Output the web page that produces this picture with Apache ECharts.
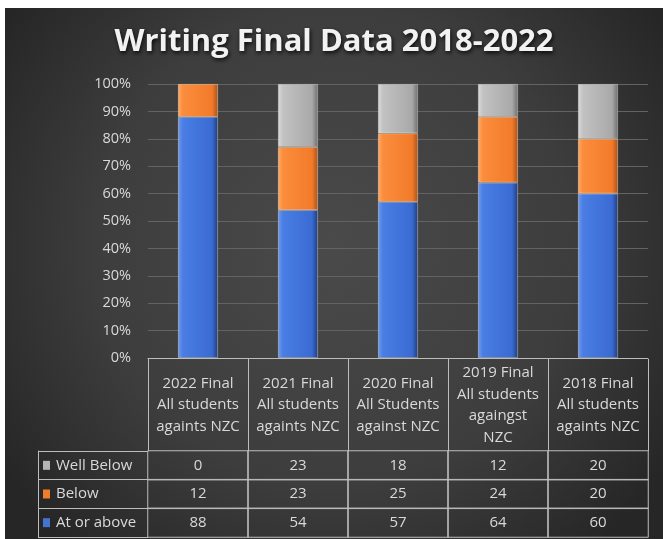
<!DOCTYPE html>
<html>
<head>
<meta charset="utf-8">
<script src="https://cdn.jsdelivr.net/npm/echarts@6/dist/echarts.min.js"></script>
<style>
html,body{margin:0;padding:0;background:#ffffff;width:663px;height:539px;overflow:hidden;}
#c{position:absolute;left:5px;top:8px;width:658px;height:531px;}
</style>
</head>
<body>
<div id="c"></div>
<script>
// ---- data ----
const categories = [
  '2022 Final\nAll students\nagaints NZC',
  '2021 Final\nAll students\nagaints NZC',
  '2020 Final\nAll Students\nagainst NZC',
  '2019 Final\nAll students\nagaingst\nNZC',
  '2018 Final\nAll students\nagaints NZC'
];
const seriesNames = ['Well Below', 'Below', 'At or above'];
const wellBelow = [0, 23, 18, 12, 20];
const below = [12, 23, 25, 24, 20];
const atOrAbove = [88, 54, 57, 64, 60];
const yTicks = [0, 10, 20, 30, 40, 50, 60, 70, 80, 90, 100];

const FONT = '"Open Sans"';
const TXT = '#d9d9d9';
const BORDER = '#bdbdbd';

function grad(c0, c1, c2, c3) {
  return new echarts.graphic.LinearGradient(0, 0, 1, 0, [
    {offset: 0, color: c0}, {offset: 0.12, color: c1},
    {offset: 0.85, color: c2}, {offset: 1, color: c3}
  ]);
}
const colBlue = grad('#6c9cf2', '#4a7ee4', '#3a6bd2', '#1e3d7c');
const colOrange = grad('#ffab66', '#fb8d3c', '#f27b2a', '#a8521a');
const colGrey = grad('#dcdcdc', '#c2c2c2', '#a9a9a9', '#6e6e6e');
const iconColors = {'Well Below': '#b5b5b5', 'Below': '#f07d2c', 'At or above': '#4574d0'};

// empty segments are not drawn
const seg = arr => arr.map(v => (v === 0 ? '-' : v));

const rows = [wellBelow, below, atOrAbove];
const tableData = [];
rows.forEach((arr, r) => arr.forEach((v, c) => tableData.push([c, r, v])));

const chart = echarts.init(document.getElementById('c'), null, {renderer: 'canvas'});
chart.setOption({
  animation: false,
  backgroundColor: {
    type: 'radial', x: 0.5, y: 0.45, r: 0.75,
    colorStops: [{offset: 0, color: '#4a4a4a'}, {offset: 0.6, color: '#3d3d3d'}, {offset: 1, color: '#262626'}]
  },
  title: {
    text: 'Writing Final Data 2018-2022',
    left: 'center', top: 14,
    textStyle: {
      fontFamily: FONT, fontWeight: 'bold', fontSize: 31, color: '#f2f2f2',
      textShadowColor: 'rgba(0,0,0,0.85)', textShadowBlur: 4, textShadowOffsetX: 1, textShadowOffsetY: 2
    }
  },
  grid: [
    {left: 143, top: 76, width: 500, height: 274},
    {left: 143, top: 443, width: 500, height: 86}
  ],
  xAxis: [
    {
      gridIndex: 0, type: 'category', data: categories,
      axisLine: {show: true, lineStyle: {color: BORDER, width: 1}},
      axisTick: {show: false}, axisLabel: {show: false}
    },
    {
      gridIndex: 1, type: 'category', data: categories, position: 'top',
      axisLine: {show: false},
      axisTick: {show: true, length: 92, interval: 0, lineStyle: {color: BORDER}},
      axisLabel: {
        interval: 0, margin: 46, verticalAlign: 'middle', color: TXT,
        fontFamily: FONT, fontSize: 15, lineHeight: 21.5, align: 'center'
      }
    }
  ],
  yAxis: [
    {
      gridIndex: 0, type: 'value', min: 0, max: 100, interval: 10,
      axisLine: {show: false}, axisTick: {show: false},
      axisLabel: {formatter: '{value}%', color: TXT, fontFamily: FONT, fontSize: 14.5, margin: 17},
      splitLine: {lineStyle: {color: '#636363', width: 1}}
    },
    {
      gridIndex: 1, type: 'category', data: seriesNames, inverse: true,
      axisLine: {show: false},
      axisTick: {show: true, length: 110, interval: 0, lineStyle: {color: BORDER}},
      axisLabel: {
        align: 'left', margin: 105, color: TXT, fontFamily: FONT, fontSize: 15,
        formatter: function (v) {
          const key = v === 'Well Below' ? 'g' : (v === 'Below' ? 'o' : 'b');
          return '{' + key + '|}{t|' + v + '}';
        },
        rich: {
          g: {width: 7, height: 9, backgroundColor: iconColors['Well Below']},
          o: {width: 7, height: 9, backgroundColor: iconColors['Below']},
          b: {width: 7, height: 9, backgroundColor: iconColors['At or above']},
          t: {color: TXT, fontFamily: FONT, fontSize: 15, padding: [0, 0, 0, 6]}
        }
      }
    },
    {
      gridIndex: 1, type: 'category', data: seriesNames, inverse: true, position: 'left', offset: 110,
      axisLine: {show: true, lineStyle: {color: BORDER}},
      axisTick: {show: false}, axisLabel: {show: false}
    }
  ],
  series: [
    {
      name: 'At or above', type: 'bar', stack: 'all', xAxisIndex: 0, yAxisIndex: 0,
      barWidth: 40, data: seg(atOrAbove),
      itemStyle: {color: colBlue, borderColor: 'rgba(230,220,210,0.55)', borderWidth: 0.8}
    },
    {
      name: 'Below', type: 'bar', stack: 'all', xAxisIndex: 0, yAxisIndex: 0,
      barWidth: 40, data: seg(below),
      itemStyle: {color: colOrange, borderColor: 'rgba(255,225,200,0.6)', borderWidth: 0.8}
    },
    {
      name: 'Well Below', type: 'bar', stack: 'all', xAxisIndex: 0, yAxisIndex: 0,
      barWidth: 40, data: seg(wellBelow),
      itemStyle: {color: colGrey, borderColor: 'rgba(235,235,235,0.5)', borderWidth: 0.8}
    },
    {
      name: 'table', type: 'heatmap', xAxisIndex: 1, yAxisIndex: 1,
      data: tableData,
      itemStyle: {color: 'rgba(0,0,0,0)', borderColor: BORDER, borderWidth: 1},
      label: {
        show: true, color: TXT, fontFamily: FONT, fontSize: 15,
        formatter: function (p) { return String(p.value[2]); }
      },
      emphasis: {disabled: true}
    }
  ]
});
</script>
</body>
</html>
